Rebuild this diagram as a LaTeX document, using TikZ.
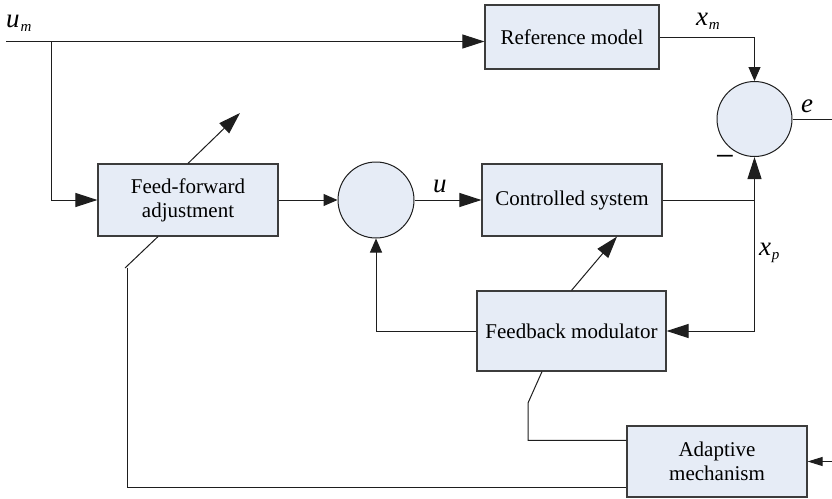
\documentclass[tikz,border=0pt]{standalone}
\usepackage{fontspec}
\setmainfont{Liberation Serif}
\usetikzlibrary{arrows.meta,calc}
\definecolor{boxfill}{RGB}{230,236,246}
\definecolor{boxline}{RGB}{60,60,60}
\definecolor{wirecol}{RGB}{30,30,30}
\newcommand\vlab[2]{{\fontsize{27}{27}\selectfont\itshape #1}\kern0.8pt\raisebox{-4.5pt}{\fontsize{15}{15}\selectfont\itshape #2}}
\tikzset{
  blk/.style={draw=boxline, line width=1.2pt, fill=boxfill, align=center,
    font=\fontsize{21}{24}\selectfont, inner sep=0pt},
  sumnode/.style={circle, draw=wirecol, line width=1pt, fill=boxfill, inner sep=0pt},
  wire/.style={line width=1pt, draw=wirecol},
  big/.style={wire, -{Triangle[length=22pt,width=14pt]}},
  small/.style={wire, -{Triangle[length=14pt,width=12pt]}},
  tiny/.style={wire, -{Triangle[length=15pt,width=9pt]}},
  lbl/.style={inner sep=0pt, anchor=base west},
}
\begin{document}
\begin{tikzpicture}[x=1pt,y=-1pt]
\useasboundingbox (0,0) rectangle (832,498);
\fill[white] (0,0) rectangle (832,498);

% blocks
\node[blk, minimum width=174pt, minimum height=64pt] (ref) at (572,37) {Reference model};
\node[blk, minimum width=180pt, minimum height=72pt] (ff) at (188,200) {Feed-forward\\adjustment};
\node[blk, minimum width=180pt, minimum height=72pt] (cs) at (572,200) {Controlled system};
\node[blk, minimum width=189pt, minimum height=80pt] (fm) at (571.5,331) {Feedback modulator};
\node[blk, minimum width=180pt, minimum height=71pt] (am) at (717,461.5) {Adaptive\\mechanism};
\node[sumnode, minimum size=76pt] (s1) at (376,200) {};
\node[sumnode, minimum size=75pt] (s2) at (754.5,119) {};

% labels
\node[lbl] (lum) at (6,27) {\vlab{u}{m}};
\node[lbl] (lxm) at (696,25) {\vlab{x}{m}};
\node[lbl] (le) at (801,112) {{\fontsize{27}{27}\selectfont\itshape e}};
\node[lbl] (lu) at (433,192) {{\fontsize{27}{27}\selectfont\itshape u}};
\node[lbl] (lxp) at (759,255) {\vlab{x}{p}};
\node[inner sep=0pt] (minus) at (725,161) {\fontsize{34}{34}\selectfont −};

% input branch
\coordinate (in) at (6,41.5);
\coordinate (br) at (51.5,41.5);
\draw[big] (in) -- (in -| ref.west);
\draw[big] (br) |- (ff.west);

% forward path
\draw[small] (ff.east) -- (s1.west);
\draw[big] (s1.east) -- (cs.west);
\draw[small] (ref.east) -| (s2.north);
\coordinate (j) at (cs.east -| s2.south);
\draw[wire] (cs.east) -- (j);
\draw[big] (j) -- (s2.south);
\draw[big] (j) |- (fm.east);
\coordinate (eout) at (832,119);
\draw[wire] (s2.east) -- (eout);

% feedback
\draw[small] (fm.west) -| (s1.south);
\draw[big] (fm.north) -- ($(cs.south)+(45,0)$);

% adjustable arrow through feed-forward
\coordinate (ffup) at (240,113);
\draw[big] (ff.north) -- (ffup);

% adaptive mechanism connections
\coordinate (fs1) at ($(ff.south)+(-30,0)$);
\coordinate (fs2) at (125,268);
\coordinate (fv) at (127,268);
\coordinate (ab) at ($(am.south west)+(0,-10)$);
\draw[wire] (fs1) -- (fs2);
\draw[wire] (fv) |- (ab);

\coordinate (m1) at ($(fm.south)+(-29.5,0)$);
\coordinate (m2) at (528,403);
\coordinate (at) at ($(am.north west)+(0,15)$);
\draw[wire] (m1) -- (m2) |- (at);

\coordinate (ain) at (832,461.5);
\draw[tiny] (ain) -- (am.east);
\end{tikzpicture}
\end{document}
